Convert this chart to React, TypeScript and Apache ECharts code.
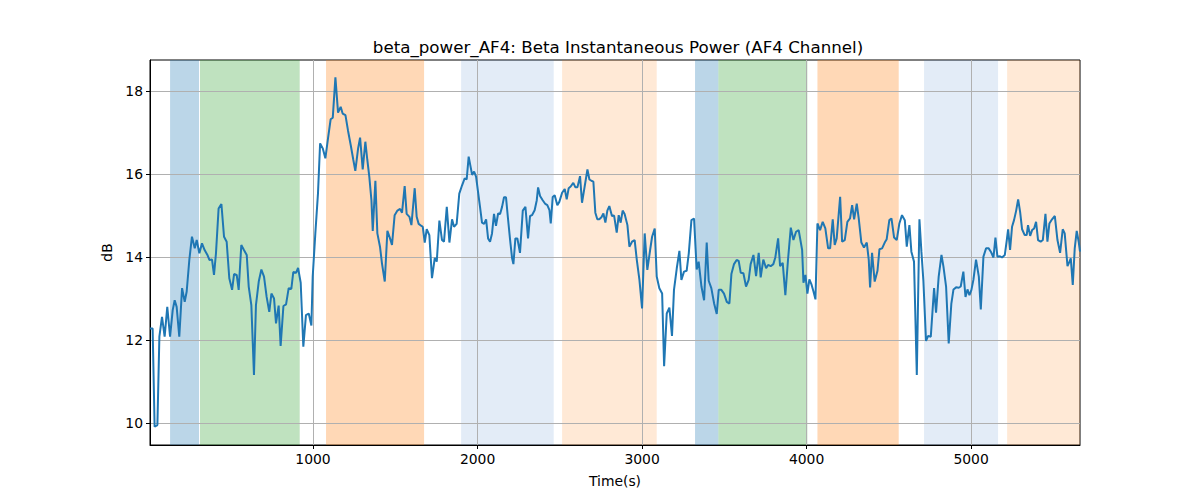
import React, { useEffect, useRef } from "react";
import * as echarts from "echarts";

const TITLE = "beta_power_AF4: Beta Instantaneous Power (AF4 Channel)";
const X_NAME = "Time(s)";
const Y_NAME = "dB";

const xTicks = [1000, 2000, 3000, 4000, 5000];
const yTicks = [10, 12, 14, 16, 18];

const timeSec = [
  9, 25, 37, 54, 66, 82, 98, 114, 131, 147, 159, 171, 187, 204, 220, 232, 248, 264, 281, 293,
  309, 325, 341, 358, 370, 386, 398, 410, 426, 443, 459, 475, 491, 508, 520, 536, 548, 564, 580, 597,
  609, 625, 641, 653, 670, 686, 702, 718, 734, 747, 763, 775, 791, 803, 820, 836, 852, 868, 880, 897,
  909, 925, 941, 957, 974, 990,
  998, 1014, 1030, 1043, 1059, 1075, 1091, 1107, 1120, 1136, 1152, 1168, 1180, 1197, 1213, 1229, 1245, 1257, 1274, 1286,
  1302, 1318, 1330, 1342, 1355, 1363, 1379, 1391, 1407, 1419, 1436, 1452, 1468, 1480, 1496, 1513, 1529, 1541, 1557, 1569,
  1586, 1598, 1618, 1630, 1642, 1659, 1667, 1679, 1691, 1707, 1723, 1740, 1752, 1768, 1784, 1796, 1813, 1829, 1845, 1857,
  1873, 1889, 1906, 1922, 1934, 1946,
  1967, 1979, 1991, 2003, 2015, 2027, 2040, 2052, 2064, 2076, 2088, 2100, 2112, 2125, 2137, 2149, 2161, 2173, 2185, 2198,
  2210, 2218, 2230, 2242, 2258, 2275, 2291, 2307, 2319, 2331, 2347, 2360, 2368, 2380, 2396, 2412, 2424, 2437, 2445, 2457,
  2469, 2485, 2497, 2514, 2530, 2542, 2554, 2566, 2582, 2595, 2607, 2623, 2635, 2651, 2668, 2680, 2692, 2704, 2716, 2728,
  2740, 2753, 2765, 2777, 2789, 2801, 2817, 2830, 2846, 2858, 2870, 2882, 2894, 2911, 2923, 2939, 2955,
  2968, 2984, 3000, 3016, 3032, 3049, 3061, 3077, 3089, 3105, 3122, 3134, 3150, 3166, 3182, 3194, 3211, 3227, 3239, 3255,
  3271, 3284, 3300, 3316, 3332, 3344, 3361, 3377, 3393, 3405, 3421, 3438, 3454, 3466, 3482, 3498, 3515, 3531, 3543, 3559,
  3575, 3587, 3600, 3616, 3632, 3648, 3660, 3677, 3693, 3709, 3721, 3737, 3754, 3766, 3782, 3798, 3810, 3827, 3839, 3855,
  3871, 3887, 3904, 3920, 3936, 3952,
  3973, 3981, 3993, 4005, 4017, 4029, 4042, 4054, 4066, 4082, 4098, 4114, 4131, 4143, 4159, 4171, 4183, 4204, 4216, 4232,
  4248, 4264, 4277, 4289, 4305, 4317, 4333, 4349, 4366, 4378, 4386, 4398, 4414, 4431, 4443, 4459, 4475, 4487, 4503, 4516,
  4532, 4548, 4564, 4580, 4597, 4609, 4625, 4637, 4653, 4670, 4686, 4698, 4710, 4726, 4739, 4755,
  4775, 4787, 4803, 4820, 4832, 4848, 4864, 4880, 4893, 4909, 4925, 4937, 4953, 4966, 4978, 4990, 5002, 5014, 5030, 5047,
  5059, 5075, 5091, 5107, 5120, 5136, 5148, 5160, 5176, 5188, 5205, 5217, 5225, 5237, 5249, 5261, 5274, 5286, 5298, 5310,
  5326, 5338, 5346, 5359, 5371, 5383, 5395, 5407, 5423, 5436, 5452, 5464, 5476, 5492, 5509, 5525, 5541, 5557, 5569, 5586,
  5598, 5606, 5618, 5630, 5642, 5654, 5662,
];

const powerDb = [
  12.28, 12.28, 9.91, 9.95, 12.08, 12.56, 12.08, 12.8, 12.08, 12.72, 12.96, 12.8, 12.08, 13.25, 12.92, 13.17, 13.93, 14.49, 14.21, 14.41,
  14.09, 14.33, 14.17, 14.05, 13.93, 13.94, 13.57, 14.09, 15.17, 15.28, 14.49, 14.37, 13.49, 13.21, 13.59, 13.57, 13.21, 14.29, 14.17, 14.05,
  13.29, 12.84, 11.16, 12.84, 13.41, 13.7, 13.53, 13.04, 12.68, 13.12, 13.0, 12.4, 12.83, 11.86, 12.82, 12.86, 13.25, 13.23, 13.64, 13.62,
  13.74, 13.38, 11.84, 12.6, 12.64, 12.35,
  13.53, 14.57, 15.53, 16.74, 16.62, 16.38, 16.86, 17.32, 17.36, 18.33, 17.48, 17.62, 17.46, 17.42, 17.04, 16.7, 16.34, 16.08, 16.62, 16.88,
  16.11, 16.78, 16.34, 15.94, 15.37, 14.63, 15.84, 14.57, 14.25, 13.85, 13.41, 14.63, 14.45, 14.29, 15.01, 15.12, 15.16, 15.07, 15.71, 15.04,
  14.97, 14.77, 15.66, 14.97, 14.8, 14.75, 14.73, 14.35, 14.67, 14.53, 13.49, 13.98, 13.89, 14.88, 14.41, 14.37, 15.21, 14.35, 14.91, 14.73,
  14.8, 15.53, 15.73, 15.9, 15.87, 16.42,
  15.98, 16.06, 15.94, 15.57, 15.21, 14.83, 14.8, 14.91, 14.45, 14.37, 14.57, 15.04, 14.75, 15.05, 15.04, 15.21, 15.44, 15.44, 14.93, 14.41,
  13.97, 13.83, 14.45, 14.45, 14.1, 15.12, 15.21, 14.45, 14.99, 15.01, 15.13, 15.37, 15.68, 15.47, 15.37, 15.28, 15.25, 15.13, 14.81, 15.45,
  15.49, 15.25, 15.33, 15.55, 15.64, 15.39, 15.66, 15.7, 15.79, 15.68, 15.68, 15.95, 15.31, 15.7, 16.11, 15.87, 15.84, 15.82, 15.07, 14.91,
  14.91, 14.96, 15.05, 14.83, 15.12, 15.23, 14.99, 15.0, 14.59, 15.01, 14.83, 15.12, 15.04, 14.77, 14.25, 14.37, 14.41,
  13.93, 13.45, 12.76, 14.57, 13.69, 14.17, 14.49, 14.69, 13.53, 13.25, 13.12, 11.37, 12.64, 12.78, 12.1, 13.21, 13.73, 14.15, 13.45, 13.65,
  13.67, 14.09, 14.89, 14.93, 13.7, 13.89, 13.29, 12.96, 14.35, 13.43, 13.25, 12.88, 12.63, 13.21, 13.21, 13.12, 12.92, 12.88, 13.59, 13.83,
  13.93, 13.91, 13.62, 13.61, 13.29, 13.45, 13.83, 14.05, 13.54, 14.1, 13.51, 13.94, 13.73, 13.81, 13.78, 13.83, 13.99, 14.45, 13.78, 13.86,
  13.08, 13.93, 14.71, 14.41, 14.61, 14.65,
  14.17, 13.38, 13.57, 13.12, 13.46, 13.35, 13.17, 12.98, 14.81, 14.65, 14.85, 14.69, 14.21, 14.21, 14.91, 14.29, 14.45, 15.45, 14.37, 14.41,
  14.85, 14.93, 15.25, 14.91, 15.29, 14.93, 14.35, 14.23, 14.35, 13.93, 13.27, 14.1, 13.41, 13.67, 14.19, 14.21, 14.35, 14.43, 14.89, 14.93,
  14.47, 14.41, 14.81, 15.01, 14.89, 14.25, 14.77, 14.13, 13.89, 11.16, 14.91, 14.13, 13.43, 11.98, 12.1, 12.08,
  13.25, 12.66, 13.53, 14.05, 13.77, 13.29, 11.92, 12.88, 13.22, 13.27, 13.26, 13.29, 13.65, 13.04, 13.22, 13.08, 13.21, 13.45, 13.94, 13.53,
  12.74, 14.01, 14.21, 14.21, 14.13, 13.99, 14.47, 14.01, 14.02, 13.99, 14.05, 14.41, 14.67, 14.17, 14.73, 14.89, 15.12, 15.39, 15.09, 14.67,
  14.53, 14.53, 14.77, 14.51, 14.65, 14.69, 14.85, 14.41, 14.37, 14.41, 15.04, 14.37, 14.81, 14.91, 14.99, 14.41, 14.1, 14.67, 14.57, 13.78,
  13.89, 13.97, 13.33, 14.21, 14.63, 14.37, 14.13,
];

// Shaded intervals (seconds) and their kind
const spanStart = [131, 313, 1079, 1900, 2514, 3322, 3464, 4066, 4714, 5219];
const spanEnd = [307, 919, 1675, 2463, 3089, 3464, 4005, 4560, 5164, 5662];
const spanKind = ["blue", "green", "orange", "lightblue", "lightorange", "blue", "green", "orange", "lightblue", "lightorange"];

const kindColor: Record<string, string> = {
  blue: "rgba(31,119,180,0.3)",
  green: "rgba(44,160,44,0.3)",
  orange: "rgba(255,127,14,0.3)",
  lightblue: "rgba(60,120,200,0.14)",
  lightorange: "rgba(255,127,14,0.17)",
};

const FONT = "DejaVu Sans";

export default function App() {
  const ref = useRef<HTMLDivElement>(null);
  useEffect(() => {
    if (!ref.current) return;
    const chart = echarts.init(ref.current, undefined, { renderer: "svg" });
    const lineData = timeSec.map((t, i) => [t, powerDb[i]]);
    const areas = spanStart.map((s, i) => [
      { xAxis: s, itemStyle: { color: kindColor[spanKind[i]] } },
      { xAxis: spanEnd[i] },
    ]);
    chart.setOption({
      animation: false,
      backgroundColor: "#ffffff",
      title: {
        text: TITLE,
        left: 613,
        top: 33,
        textAlign: "center",
        textStyle: { fontFamily: FONT, fontSize: 16.7, fontWeight: "normal", color: "#000" },
      },
      grid: {
        left: 150,
        right: 120,
        top: 60,
        bottom: 55,
        show: true,
        borderColor: "#000",
        borderWidth: 1,
        backgroundColor: "transparent",
      },
      xAxis: {
        type: "value",
        min: 9,
        max: 5662,
        z: 2,
        name: X_NAME,
        nameLocation: "middle",
        nameGap: 29,
        nameTextStyle: { fontFamily: FONT, fontSize: 13.9, color: "#000" },
        axisLine: { show: true, onZero: false, lineStyle: { color: "#000", width: 1 } },
        axisTick: { show: true, inside: false, length: 4, customValues: xTicks, lineStyle: { color: "#000" } },
        axisLabel: {
          customValues: xTicks,
          margin: 7,
          fontFamily: FONT,
          fontSize: 13.9,
          color: "#000",
          formatter: (v: number) => String(v),
        },
        splitLine: { show: true, lineStyle: { color: "#b0b0b0", width: 1 } },
      },
      yAxis: {
        type: "value",
        min: 9.47,
        max: 18.75,
        z: 2,
        name: Y_NAME,
        nameLocation: "middle",
        nameGap: 32,
        nameTextStyle: { fontFamily: FONT, fontSize: 13.9, color: "#000" },
        axisLine: { show: true, onZero: false, lineStyle: { color: "#000", width: 1 } },
        axisTick: { show: true, inside: false, length: 4, customValues: yTicks, lineStyle: { color: "#000" } },
        axisLabel: {
          customValues: yTicks,
          margin: 7,
          fontFamily: FONT,
          fontSize: 13.9,
          color: "#000",
          formatter: (v: number) => String(v),
        },
        splitLine: { show: true, lineStyle: { color: "#b0b0b0", width: 1 } },
      },
      series: [
        {
          type: "line",
          data: lineData,
          showSymbol: false,
          symbol: "none",
          lineStyle: { color: "#1f77b4", width: 2 },
          itemStyle: { color: "#1f77b4" },
          z: 3,
          markArea: { silent: true, z: 1, data: areas },
        },
      ],
    });
    return () => chart.dispose();
  }, []);
  return (
    <div
      ref={ref}
      style={{ position: "fixed", left: 0, top: 0, width: 1200, height: 500, background: "#fff" }}
    />
  );
}
